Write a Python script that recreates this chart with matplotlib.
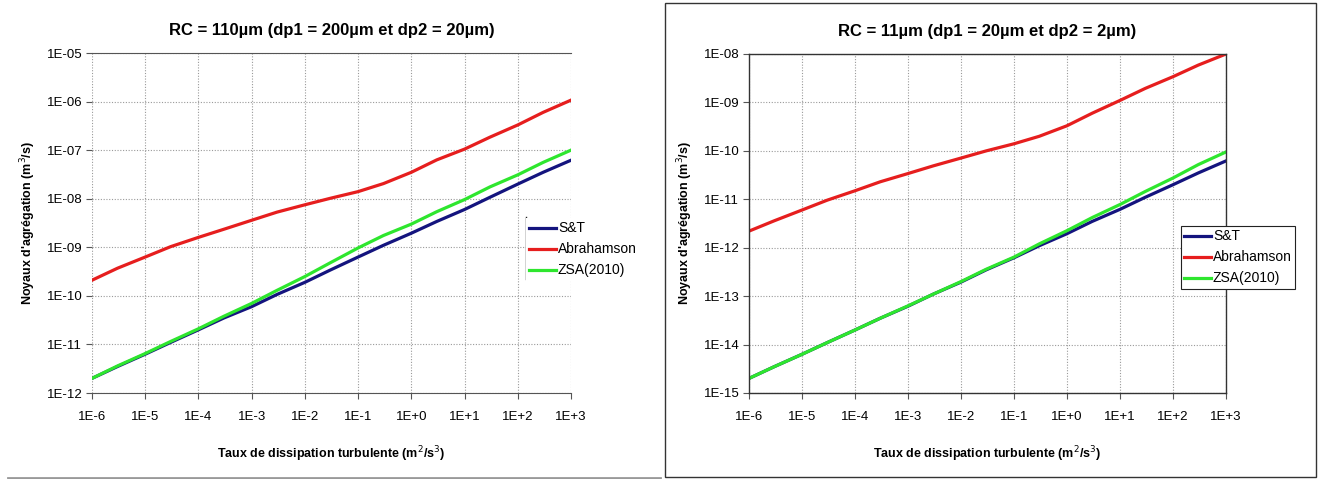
import matplotlib.pyplot as plt
from matplotlib.lines import Line2D
from matplotlib.patches import Rectangle
from matplotlib.ticker import FixedLocator, FixedFormatter, NullLocator

plt.rcParams['font.family'] = ['Liberation Sans', 'DejaVu Sans']

# dissipation rate (m2/s3), decades and half decades
eps = [1e-6, 3e-6, 1e-5, 3e-5, 1e-4, 3e-4, 1e-3, 3e-3, 1e-2, 3e-2,
       1e-1, 3e-1, 1e0, 3e0, 1e1, 3e1, 1e2, 3e2, 1e3]

# left: RC = 110 um
st_left = [2.0e-12, 3.5e-12, 6.3e-12, 1.1e-11, 2.0e-11, 3.5e-11, 6.0e-11, 1.07e-10, 1.9e-10,
           3.4e-10, 6.3e-10, 1.1e-9, 1.95e-9, 3.4e-9, 6.0e-9, 1.07e-8, 2.0e-8, 3.5e-8, 6.2e-8]
abr_left = [2.1e-10, 3.7e-10, 6.3e-10, 1.03e-9, 1.6e-9, 2.35e-9, 3.6e-9, 5.3e-9, 7.5e-9,
            1.02e-8, 1.4e-8, 2.05e-8, 3.5e-8, 6.3e-8, 1.05e-7, 1.85e-7, 3.3e-7, 6.0e-7, 1.07e-6]
zsa_left = [2.0e-12, 3.6e-12, 6.5e-12, 1.15e-11, 2.1e-11, 3.8e-11, 7.0e-11, 1.3e-10, 2.5e-10,
            4.8e-10, 9.7e-10, 1.75e-9, 3.0e-9, 5.4e-9, 9.6e-9, 1.75e-8, 3.1e-8, 5.6e-8, 1.0e-7]

# right: RC = 11 um
st_right = [2.0e-15, 3.5e-15, 6.3e-15, 1.1e-14, 2.0e-14, 3.5e-14, 6.2e-14, 1.1e-13, 1.95e-13,
            3.5e-13, 6.2e-13, 1.1e-12, 1.95e-12, 3.5e-12, 6.2e-12, 1.1e-11, 2.0e-11, 3.5e-11, 6.2e-11]
abr_right = [2.2e-12, 3.6e-12, 6.0e-12, 9.6e-12, 1.5e-11, 2.3e-11, 3.4e-11, 4.9e-11, 7.1e-11,
             1.0e-10, 1.4e-10, 2.0e-10, 3.3e-10, 6.0e-10, 1.1e-9, 1.95e-9, 3.4e-9, 5.9e-9, 1.0e-8]
zsa_right = [2.0e-15, 3.5e-15, 6.3e-15, 1.1e-14, 2.0e-14, 3.5e-14, 6.3e-14, 1.1e-13, 2.0e-13,
             3.6e-13, 6.4e-13, 1.2e-12, 2.25e-12, 4.2e-12, 7.8e-12, 1.45e-11, 2.75e-11, 5.2e-11, 9.5e-11]

x_ticks = [1e-6, 1e-5, 1e-4, 1e-3, 1e-2, 1e-1, 1e0, 1e1, 1e2, 1e3]
x_labels = ["1E-6", "1E-5", "1E-4", "1E-3", "1E-2", "1E-1", "1E+0", "1E+1", "1E+2", "1E+3"]
y_left_ticks = [1e-12, 1e-11, 1e-10, 1e-9, 1e-8, 1e-7, 1e-6, 1e-5]
y_left_labels = ["1E-12", "1E-11", "1E-10", "1E-09", "1E-08", "1E-07", "1E-06", "1E-05"]
y_right_ticks = [1e-15, 1e-14, 1e-13, 1e-12, 1e-11, 1e-10, 1e-9, 1e-8]
y_right_labels = ["1E-15", "1E-14", "1E-13", "1E-12", "1E-11", "1E-10", "1E-09", "1E-08"]

c_st = "#14147e"
c_abr = "#e61e1e"
c_zsa = "#2ee62e"

fig = plt.figure(figsize=(13.22, 4.79), dpi=100)
W, H = 1322, 479


def make_axes(x0, x1, y0, y1):
    return fig.add_axes([x0 / W, 1 - y1 / H, (x1 - x0) / W, (y1 - y0) / H])


def setup(ax, title, st, abr, zsa, yticks, ylabels, boxed):
    l1, = ax.plot(eps, st, color=c_st, lw=2.3, label="S&T")
    l2, = ax.plot(eps, abr, color=c_abr, lw=2.3, label="Abrahamson")
    l3, = ax.plot(eps, zsa, color=c_zsa, lw=2.3, label="ZSA(2010)")
    ax.set_xscale("log")
    ax.set_yscale("log")
    ax.set_xlim(x_ticks[0], x_ticks[-1])
    ax.set_ylim(yticks[0], yticks[-1])
    ax.xaxis.set_major_locator(FixedLocator(x_ticks))
    ax.xaxis.set_major_formatter(FixedFormatter(x_labels))
    ax.xaxis.set_minor_locator(NullLocator())
    ax.yaxis.set_major_locator(FixedLocator(yticks))
    ax.yaxis.set_major_formatter(FixedFormatter(ylabels))
    ax.yaxis.set_minor_locator(NullLocator())
    ax.grid(True, color="#9a9a9a", linestyle=(0, (1, 1.5)), linewidth=0.8)
    ax.tick_params(labelsize=9.5, length=4, width=0.8, color="#555555", pad=3)
    ax.tick_params(axis="x", pad=9)
    ax.set_title(title, fontsize=12, fontweight="bold", pad=13)
    ax.set_xlabel("Taux de dissipation turbulente (m$^2$/s$^3$)", fontsize=9, fontweight="bold")
    ax.xaxis.set_label_coords(0.5, -0.152)
    ax.set_ylabel("Noyaux d'agrégation (m$^3$/s)", fontsize=9, fontweight="bold")
    ax.yaxis.set_label_coords(-0.113, 0.5)
    if boxed:
        for s in ax.spines.values():
            s.set_color("#333333")
            s.set_linewidth(1.0)
    else:
        ax.spines["left"].set_visible(False)
        ax.spines["right"].set_visible(False)
        ax.spines["top"].set_color("#555555")
        ax.spines["bottom"].set_color("#555555")
    return [l1, l2, l3]


ax1 = make_axes(92, 571, 53, 393)
h1 = setup(ax1, "RC = 110µm (dp1 = 200µm et dp2 = 20µm)", st_left, abr_left, zsa_left,
           y_left_ticks, y_left_labels, False)
ax2 = make_axes(749, 1226, 54, 393)
h2 = setup(ax2, "RC = 11µm (dp1 = 20µm et dp2 = 2µm)", st_right, abr_right, zsa_right,
           y_right_ticks, y_right_labels, True)

leg1 = fig.legend(handles=h1, loc="upper left", bbox_to_anchor=(526 / W, 1 - 218 / H),
                  fontsize=10, frameon=True, fancybox=False, edgecolor="white",
                  facecolor="white", framealpha=1, handlelength=1.9, handletextpad=0.15,
                  labelspacing=0.5, borderpad=0.25, borderaxespad=0)
leg1.get_frame().set_linewidth(0)
fig.add_artist(Line2D([526 / W, 526 / W], [1 - 217 / H, 1 - 279 / H], color="#222222", lw=1.0))

leg2 = fig.legend(handles=h2, loc="upper left", bbox_to_anchor=(1181 / W, 1 - 226 / H),
                  fontsize=10, frameon=True, fancybox=False, edgecolor="#222222",
                  facecolor="white", framealpha=1, handlelength=1.9, handletextpad=0.15,
                  labelspacing=0.5, borderpad=0.25, borderaxespad=0)
leg2.get_frame().set_linewidth(0.8)

# frame around right chart, line under left chart
fig.add_artist(Rectangle((665 / W, 2 / H), 651 / W, 474 / H, transform=fig.transFigure,
                         fill=False, edgecolor="#333333", lw=1.0))
fig.add_artist(Line2D([8 / W, 660 / W], [1 - 478 / H, 1 - 478 / H], color="#999999", lw=2.0))

fig.savefig("out.png", dpi=100)
